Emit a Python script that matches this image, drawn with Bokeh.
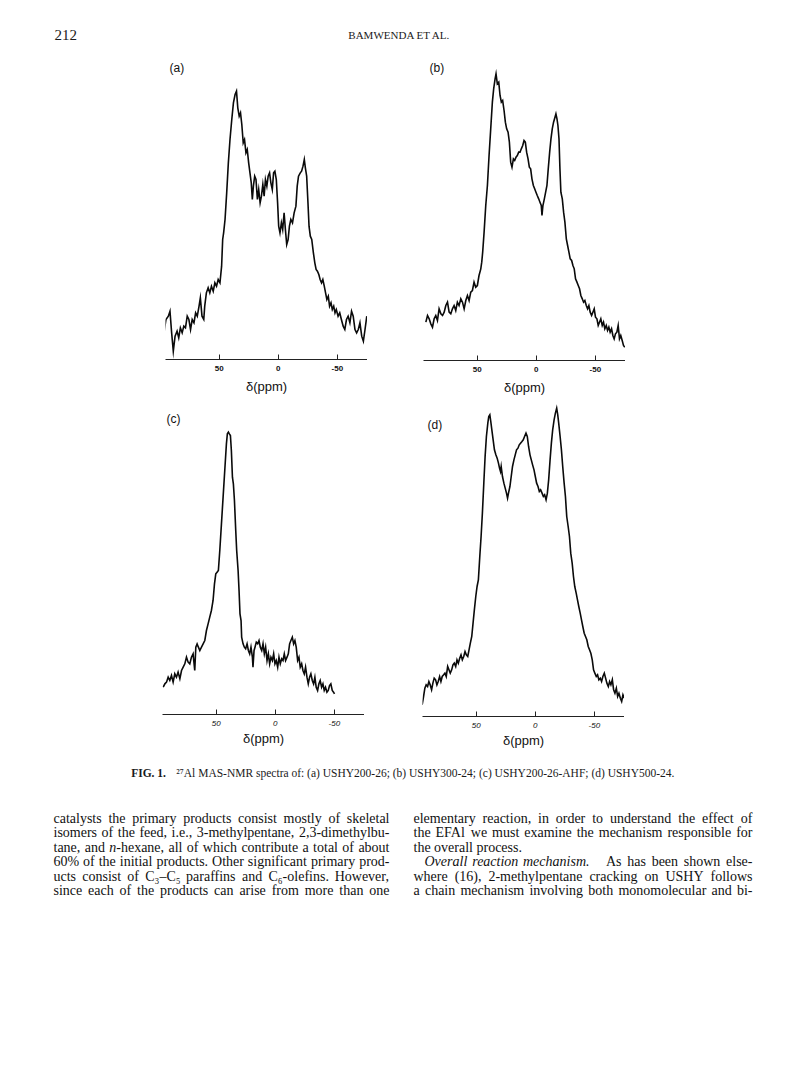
from bokeh.plotting import figure
from bokeh.models import Range1d, FixedTicker, Spacer
from bokeh.layouts import column, row
from bokeh.embed import file_html
from bokeh.resources import INLINE
from bokeh.core.properties import value

# ---------------- data (intensity in arbitrary units) ----------------
ppm_a = [96.6, 95.1, 93.1, 91.7, 90.3, 88.9, 87.4, 85.7, 84.3, 82.9, 81.4, 80.0, 78.6, 77.1, 75.7, 74.3,
         72.9, 71.4, 70.0, 68.6, 67.1, 66.0, 64.6, 63.1, 62.3, 60.9, 59.4, 58.0, 56.6, 55.1, 53.7, 52.3,
         50.9, 49.4, 48.0, 47.1, 46.3, 45.1, 43.7, 42.3, 40.9, 39.4, 38.0, 36.6, 35.4, 34.3, 33.1, 32.0,
         30.9, 29.7, 28.6, 27.4, 26.3, 25.1, 24.0, 22.9, 22.0, 21.1, 20.0, 18.9, 17.7, 16.6, 15.4, 14.3,
         13.1, 12.0, 10.9, 9.7, 8.6, 7.4, 6.3, 5.1, 4.0, 2.9, 1.7, 0.6, -0.3, -1.4, -2.6, -3.7, -4.9,
         -6.0, -7.1, -8.3, -9.4, -10.6, -12.0, -13.4, -14.9, -16.0, -17.1, -18.6, -19.7, -20.9, -22.0,
         -22.9, -24.0, -25.1, -26.0, -27.1, -28.3, -29.7, -30.9, -32.0, -33.1, -34.3, -35.4, -36.6,
         -37.7, -38.9, -40.0, -41.1, -42.3, -43.4, -44.6, -45.7, -46.9, -48.0, -49.1, -50.6, -52.0,
         -53.4, -54.9, -56.3, -57.7, -59.1, -60.6, -62.0, -63.4, -64.9, -66.3, -67.7, -69.1, -70.6,
         -72.0, -73.4, -74.9]
int_a = [85, 120, 130, 145, 80, 25, 70, 85, 65, 95, 80, 100, 95, 130, 120, 90,
         120, 110, 140, 130, 160, 185, 130, 120, 160, 200, 215, 200, 220, 205, 230, 220,
         240, 230, 280, 360, 380, 420, 500, 590, 660, 720, 770, 795, 805, 755, 730, 740,
         705, 650, 660, 620, 630, 590, 560, 530, 480, 520, 550, 540, 480, 510, 470, 490,
         525, 490, 540, 520, 550, 560, 530, 510, 560, 565, 540, 470, 400, 380, 410, 390, 440,
         390, 345, 360, 400, 420, 410, 440, 460, 520, 550, 560, 565, 580, 600,
         575, 550, 470, 400, 370, 360, 320, 290, 270, 265, 255, 240, 230,
         240, 220, 200, 180, 190, 160, 170, 150, 160, 140, 150, 130, 140,
         120, 100, 90, 120, 130, 110, 145, 130, 90, 80, 90, 110, 70,
         55, 90, 130]

ppm_b = [93.5, 92.1, 90.7, 89.3, 87.9, 86.5, 85.1, 83.7, 82.3, 80.8, 79.4, 78.0, 76.6, 75.2, 73.8, 72.4,
         71.0, 69.6, 68.2, 66.8, 65.4, 63.9, 62.5, 61.1, 59.7, 58.3, 56.9, 55.5, 54.1, 52.7, 51.3, 49.9,
         48.5, 47.0, 46.2, 45.4, 44.2, 42.8, 41.4, 40.0, 38.6, 37.2, 36.1, 34.9, 34.1, 33.0, 31.8, 30.7,
         29.6, 28.5, 27.3, 26.2, 25.1, 23.9, 22.8, 21.7, 20.6, 19.4, 18.3, 17.2, 16.1, 14.9, 13.8, 12.7,
         11.5, 10.4, 9.3, 8.2, 7.0, 5.9, 4.8, 3.7, 2.5, 1.4, 0.3, -0.8, -2.0, -3.1, -4.2, -4.8, -5.6,
         -6.8, -7.9, -9.0, -10.1, -11.3, -12.4, -13.5, -14.6, -15.8, -16.6, -17.5, -18.3, -19.2, -20.0,
         -20.8, -22.0, -23.1, -24.2, -25.4, -26.5, -27.6, -28.7, -29.9, -31.0, -32.1, -33.2, -34.4,
         -35.5, -36.6, -37.7, -38.9, -40.0, -41.1, -42.3, -43.4, -44.5, -45.6, -46.8, -47.9, -49.0,
         -50.1, -51.3, -52.4, -53.5, -54.6, -55.8, -56.9, -58.0, -59.2, -60.3, -61.4, -62.5, -63.7,
         -64.8, -65.9, -67.0, -68.2, -69.3, -70.4, -71.5, -72.7, -73.8, -74.9]
int_b = [115, 135, 125, 110, 100, 125, 135, 120, 155, 140, 135, 145, 165, 175, 145, 140,
         155, 165, 150, 175, 165, 185, 175, 155, 180, 195, 180, 205, 210, 235, 220, 225,
         255, 275, 295, 325, 385, 465, 525, 615, 695, 775, 815, 845, 860, 830, 835, 795,
         775, 780, 750, 715, 695, 685, 655, 595, 580, 605, 600, 610, 615, 625, 625, 635,
         645, 660, 655, 625, 605, 580, 575, 545, 525, 515, 505, 495, 485, 475, 465, 435, 465,
         485, 505, 525, 575, 625, 665, 695, 715, 730, 740, 725, 705, 665, 575,
         505, 485, 445, 415, 365, 345, 325, 305, 300, 285, 275, 245, 235,
         225, 215, 195, 185, 175, 180, 165, 155, 165, 145, 135, 145, 155,
         130, 125, 105, 115, 125, 105, 115, 95, 105, 90, 100, 85, 95,
         75, 65, 80, 85, 105, 65, 75, 60, 45, 40]

ppm_c = [94.9, 93.5, 92.1, 90.7, 89.3, 87.9, 86.5, 85.1, 83.7, 82.3, 80.8, 79.4, 78.0, 76.6, 75.2, 73.8,
         72.4, 71.0, 69.6, 68.2, 67.3, 66.2, 65.1, 63.9, 62.5, 61.1, 59.7, 58.3, 56.9, 55.5, 54.1, 52.7,
         51.5, 50.4, 49.3, 48.2, 47.0, 45.6, 44.2, 42.8, 41.4, 40.6, 39.7, 38.9, 38.0, 37.2, 36.3, 35.5,
         34.6, 33.5, 32.7, 31.5, 30.7, 29.9, 29.0, 28.5, 27.3, 26.2, 25.1, 23.9, 22.8, 21.7, 20.6, 19.4,
         18.9, 18.0, 17.2, 16.1, 14.9, 13.8, 12.7, 11.5, 10.4, 9.3, 8.2, 7.0, 5.9, 4.8, 3.7, 2.5, 1.4,
         0.3, -0.8, -2.0, -3.1, -4.2, -5.4, -6.5, -7.6, -8.7, -9.9, -11.0, -12.1, -13.2, -14.4, -15.5,
         -16.6, -17.7, -18.9, -20.0, -21.1, -22.3, -23.4, -24.5, -25.6, -26.8, -27.9, -29.0, -30.1,
         -31.3, -32.4, -33.5, -34.6, -35.8, -36.9, -38.0, -39.2, -40.3, -41.4, -42.5, -43.7, -44.8,
         -45.9, -47.0, -48.2, -49.3, -50.1]
int_c = [82, 92, 97, 112, 102, 117, 97, 122, 112, 127, 107, 132, 142, 152, 172, 157,
         152, 172, 182, 132, 202, 212, 202, 192, 202, 212, 222, 252, 272, 292, 312, 342,
         392, 422, 427, 432, 492, 572, 652, 732, 812, 842, 847, 842, 837, 792, 712, 692,
         642, 552, 492, 432, 372, 302, 282, 232, 212, 202, 197, 212, 192, 182, 202, 172,
         142, 192, 202, 217, 212, 222, 202, 192, 212, 182, 202, 162, 182, 152, 172, 162, 182,
         152, 162, 142, 172, 152, 167, 162, 182, 162, 172, 182, 212, 222, 232, 212,
         222, 202, 162, 172, 142, 152, 132, 122, 142, 112, 92, 112, 122,
         102, 92, 112, 82, 72, 92, 102, 82, 92, 72, 82, 67, 72,
         87, 92, 72, 67, 62]

ppm_d = [95.8, 94.6, 93.5, 92.4, 91.2, 90.1, 89.0, 87.8, 86.7, 85.6, 84.4, 83.3, 82.2, 81.0, 79.9, 78.8,
         77.6, 76.5, 75.4, 74.2, 73.1, 72.0, 70.8, 69.7, 68.6, 67.4, 66.3, 65.2, 64.0, 62.9, 61.8, 60.6,
         59.5, 58.4, 57.2, 56.1, 55.0, 53.8, 52.7, 51.6, 50.4, 49.3, 48.2, 47.0, 45.9, 44.8, 43.6, 42.5,
         41.4, 40.2, 39.4, 38.5, 37.7, 36.8, 35.7, 34.6, 33.4, 32.3, 31.2, 30.3, 29.5, 28.9, 27.8, 26.6,
         25.5, 24.4, 23.5, 22.7, 21.5, 20.4, 19.3, 18.1, 17.0, 15.9, 14.7, 13.6, 12.5, 11.3, 10.2, 9.1,
         7.9, 6.8, 5.7, 4.5, 3.4, 2.3, 1.1, 0.0, -1.1, -2.3, -3.4, -4.5, -5.7, -6.8, -7.9, -9.1, -10.2,
         -11.3, -12.5, -13.6, -14.7, -15.9, -17.0, -18.1, -19.0, -19.8, -21.0, -22.1, -23.2, -24.4,
         -25.5, -26.6, -27.8, -28.9, -30.0, -31.2, -32.3, -33.4, -34.6, -35.7, -36.8, -38.0, -39.1,
         -40.2, -41.4, -42.5, -43.6, -44.8, -45.9, -47.0, -48.2, -49.3, -50.4, -51.6, -52.7, -53.8,
         -55.0, -56.1, -57.2, -58.4, -59.5, -60.6, -61.8, -62.9, -64.0, -65.2, -66.3, -67.4, -68.6,
         -69.7, -70.8, -72.0, -73.1, -74.2, -75.4]
int_d = [35, 60, 85, 95, 90, 105, 95, 80, 100, 115, 110, 95, 105, 120, 105, 120,
         125, 130, 120, 150, 140, 130, 140, 155, 160, 150, 170, 160, 175, 185, 170, 180,
         195, 185, 180, 200, 220, 240, 280, 320, 360, 390, 410, 480, 540, 610, 700, 780,
         840, 880, 900, 905, 885, 860, 830, 800, 785, 775, 760, 745, 735, 750, 720, 700,
         685, 670, 655, 670, 690, 720, 750, 770, 785, 800, 805, 815, 820, 825, 830, 840,
         850, 840, 810, 785, 770, 755, 740, 720, 700, 690, 675, 680, 670, 660, 665, 650, 670,
         710, 770, 820, 860, 890, 910, 925, 905, 880, 840, 800, 750, 700,
         660, 600, 570, 540, 490, 460, 420, 390, 370, 350, 330, 310, 290,
         270, 250, 240, 230, 210, 200, 190, 170, 140, 130, 120, 125, 110,
         115, 105, 120, 130, 115, 100, 90, 105, 95, 110, 80, 70, 85,
         60, 70, 55, 45, 65, 55]

tick_values = [50, 0, -50]
tick_labels = {50: "50", 0: "0", -50: "-50"}
panel_labels = ["(a)", "(b)", "(c)", "(d)"]
axis_title = "\u03b4(ppm)"

header_page = "212"
header_running = "BAMWENDA ET AL."
caption_head = "FIG. 1."
caption_body = "\u00b2\u2077Al MAS-NMR spectra of: (a) USHY200-26; (b) USHY300-24; (c) USHY200-26-AHF; (d) USHY500-24."

left_lines = [
    "catalysts the primary products consist mostly of skeletal",
    "isomers of the feed, i.e., 3-methylpentane, 2,3-dimethylbu-",
    "tane, and n-hexane, all of which contribute a total of about",
    "60% of the initial products. Other significant primary prod-",
    "ucts consist of C\u2083\u2013C\u2085 paraffins and C\u2086-olefins. However,",
    "since each of the products can arise from more than one",
]
right_lines = [
    "elementary reaction, in order to understand the effect of",
    "the EFAl we must examine the mechanism responsible for",
    "the overall process.",
    "Overall reaction mechanism.|As has been shown else-",
    "where (16), 2-methylpentane cracking on USHY follows",
    "a chain mechanism involving both monomolecular and bi-",
]
italic_prefix = {"n-hexane,": "n"}

SERIF = "Liberation Serif"
SANS = "Liberation Sans"
U = 3.0   # intensity units per screen pixel

# ---------------- spectra panels ----------------
def panel(label, ppm, inten, frame_h, lab_x, lab_y, tick_style, title_standoff):
    p = figure(frame_width=202, frame_height=frame_h,
               x_range=Range1d(95.5, -75.5), y_range=Range1d(0, frame_h * U),
               output_backend="svg", toolbar_location=None,
               y_axis_location=None,
               min_border_left=0, min_border_right=0, min_border_top=0,
               min_border_bottom=37)
    p.line(ppm, inten, line_color="#0a0a0a", line_width=1.6, line_join="miter")
    p.grid.visible = False
    p.outline_line_color = None
    ax = p.xaxis[0]
    ax.ticker = FixedTicker(ticks=tick_values)
    ax.major_label_overrides = tick_labels
    ax.minor_tick_line_color = None
    ax.major_tick_in = 5
    ax.major_tick_out = 0
    ax.axis_line_color = "#222222"
    ax.axis_line_width = 1
    ax.major_tick_line_color = "#222222"
    ax.major_label_text_font = SANS
    ax.major_label_text_font_size = "8px"
    ax.major_label_text_font_style = tick_style
    ax.major_label_text_color = "#111111"
    ax.major_label_standoff = 6
    ax.axis_label = axis_title
    ax.axis_label_text_font = SANS
    ax.axis_label_text_font_size = "13px"
    ax.axis_label_text_font_style = "normal"
    ax.axis_label_text_color = "#111111"
    ax.axis_label_standoff = title_standoff
    p.text(x=[lab_x], y=[lab_y * U], text=[label], text_font=value(SANS),
           text_font_size=value("12px"), text_baseline="middle", text_align="left",
           text_color="#111111")
    return p

pa = panel(panel_labels[0], ppm_a, int_a, 303, 92.1, 292, "bold", 5)
pb = panel(panel_labels[1], ppm_b, int_b, 304, 90.4, 293, "bold", 5)
pc = panel(panel_labels[2], ppm_c, int_c, 317, 92.1, 296, "italic", 2)
pd = panel(panel_labels[3], ppm_d, int_d, 319, 91.3, 292, "italic", 2)

row1 = row(Spacer(width=165, height=340), pa, Spacer(width=56, height=340), pb)
row2 = row(Spacer(width=162, height=356), pc, Spacer(width=58, height=356), pd)

# ---------------- text helpers ----------------
TW = {' ': 250, '!': 333, '%': 833, '(': 333, ')': 333, ',': 250, '-': 333, '.': 250, ':': 278, ';': 278,
      '\u2013': 500, '\u2083': 320, '\u2085': 320, '\u2086': 320, '\u00b2': 300, '\u2077': 300,
      'A': 722, 'B': 667, 'C': 667, 'D': 722, 'E': 611, 'F': 556, 'G': 722, 'H': 722, 'I': 333, 'J': 389,
      'K': 722, 'L': 611, 'M': 889, 'N': 722, 'O': 722, 'P': 556, 'Q': 722, 'R': 667, 'S': 556, 'T': 611,
      'U': 722, 'V': 722, 'W': 944, 'X': 722, 'Y': 722, 'Z': 611,
      'a': 444, 'b': 500, 'c': 444, 'd': 500, 'e': 444, 'f': 333, 'g': 500, 'h': 500, 'i': 278, 'j': 278,
      'k': 500, 'l': 278, 'm': 778, 'n': 500, 'o': 500, 'p': 500, 'q': 500, 'r': 333, 's': 389, 't': 278,
      'u': 500, 'v': 500, 'w': 722, 'x': 500, 'y': 500, 'z': 444}

def tw(s, size):
    return sum(TW.get(ch, 500) for ch in s) / 1000.0 * size

def justify(words, x0, x1, size, fixed_extra=None):
    widths = [tw(w, size) for w in words]
    extra = fixed_extra or {}
    free = (x1 - x0) - sum(widths) - sum(extra.values())
    gap = free / max(len(words) - 1, 1)
    xs, x = [], x0
    for i, w in enumerate(widths):
        xs.append(x)
        x += w + gap + extra.get(i, 0)
    return xs

# ---------------- header ----------------
hdr = figure(width=772, height=56, x_range=Range1d(8, 780), y_range=Range1d(64, 8),
             output_backend="svg", toolbar_location=None,
             x_axis_location=None, y_axis_location=None,
             min_border=0)
hdr.grid.visible = False
hdr.outline_line_color = None
hdr.text(x=[62], y=[42], text=[header_page], text_font=value(SERIF), text_font_size=value("15px"),
         text_baseline="middle", text_align="left", text_color="#1a1a1a")
hdr.text(x=[407], y=[42], text=[header_running], text_font=value(SERIF), text_font_size=value("11px"),
         text_baseline="middle", text_align="center", text_color="#1a1a1a")

# ---------------- caption + body text ----------------
tf = figure(width=772, height=315, x_range=Range1d(8, 780), y_range=Range1d(1075, 760),
            output_backend="svg", toolbar_location=None,
            x_axis_location=None, y_axis_location=None, min_border=0)
tf.grid.visible = False
tf.outline_line_color = None

cap_size = 11.5
cap_gap = 9
cap_total = tw(caption_head, cap_size) * 1.1 + cap_gap + tw(caption_body, cap_size)
cap_x0 = 410 - cap_total / 2
tf.text(x=[cap_x0], y=[779], text=[caption_head], text_font=value(SERIF), text_font_size=value("%.1fpx" % cap_size),
        text_font_style="bold", text_baseline="middle", text_align="left", text_color="#1a1a1a")
tf.text(x=[cap_x0 + tw(caption_head, cap_size) * 1.1 + cap_gap], y=[779], text=[caption_body],
        text_font=value(SERIF), text_font_size=value("%.1fpx" % cap_size),
        text_baseline="middle", text_align="left", text_color="#1a1a1a")

body_size = 14
line_y0 = 825
line_dy = 14.4
roman_x, roman_y, roman_t = [], [], []
ital_x, ital_y, ital_t = [], [], []

def put(word, xx, y, italic=False):
    if italic:
        ital_x.append(xx); ital_y.append(y); ital_t.append(word)
        return
    pre = italic_prefix.get(word)
    if pre:
        ital_x.append(xx); ital_y.append(y); ital_t.append(pre)
        roman_x.append(xx + tw(pre, body_size)); roman_y.append(y); roman_t.append(word[len(pre):])
    else:
        roman_x.append(xx); roman_y.append(y); roman_t.append(word)

cols = [(left_lines, 61, 397), (right_lines, 421, 760)]
for lines, x0, x1 in cols:
    for i, line in enumerate(lines):
        y = line_y0 + i * line_dy
        if "|" in line:
            head, rest = line.split("|")
            hw = head.split(" ")
            rw = rest.split(" ")
            words = hw + rw
            xs = justify(words, x0 + 11, x1, body_size, {len(hw) - 1: 10})
            for j, (w, xx) in enumerate(zip(words, xs)):
                put(w, xx, y, italic=(j < len(hw)))
        elif line.endswith("process."):
            put(line, x0, y)
        else:
            words = line.split(" ")
            xs = justify(words, x0, x1, body_size)
            for w, xx in zip(words, xs):
                put(w, xx, y)

tf.text(x=roman_x, y=roman_y, text=roman_t, text_font=value(SERIF), text_font_size=value("%dpx" % body_size),
        text_baseline="middle", text_align="left", text_color="#111111")
tf.text(x=ital_x, y=ital_y, text=ital_t, text_font=value(SERIF), text_font_size=value("%dpx" % body_size),
        text_font_style="italic", text_baseline="middle", text_align="left", text_color="#111111")

layout = column(hdr, row1, row2, tf)
open("out.html", "w").write(file_html(layout, INLINE))
